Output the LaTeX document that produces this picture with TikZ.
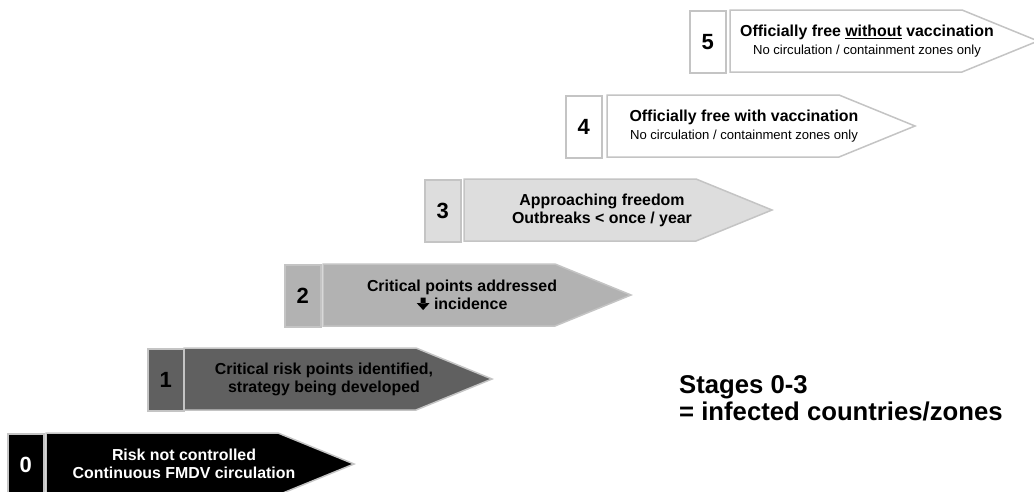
\documentclass[tikz,border=0pt]{standalone}
\usepackage{fontspec}
\setmainfont{Liberation Sans}
\definecolor{bordc}{HTML}{C4C4C4}
\definecolor{f0}{HTML}{000000}
\definecolor{f1}{HTML}{606060}
\definecolor{f2}{HTML}{B2B2B2}
\definecolor{f3}{HTML}{DDDDDD}
\definecolor{f4}{HTML}{FFFFFF}
\newcommand{\stg}[6]{% name, numleft, bodyleft, top, fill, number
  \node[numbox, fill=#5, anchor=north west] (#1n) at (#2,#4) {#6};
  \draw[bord, fill=#5] (#3,#4) -- ++(232,0) -- ++(76,31) -- ++(-76,31) -- ++(-232,0) -- cycle;
}
\newcommand{\dnarrow}{\tikz[x=1pt,y=1pt,baseline=0pt]\fill (-2.6,6) -- (2.6,6) -- (2.6,12) -- (-2.6,12) -- cycle (-6.5,6.5) -- (6.5,6.5) -- (0,-0.5) -- cycle;}
\tikzset{
  numbox/.style={draw=bordc, line width=1.5pt, minimum width=36pt, minimum height=62pt, inner sep=0pt,
    font=\fontsize{22}{24}\selectfont\bfseries},
  bord/.style={draw=bordc, line width=1.5pt},
  txt/.style={align=center, inner sep=0pt, font=\fontsize{15.9}{18}\selectfont\bfseries}
}
\begin{document}
\begin{tikzpicture}[x=1pt,y=-1pt]
\useasboundingbox (0,0) rectangle (1034,491);
\fill[white] (0,0) rectangle (1034,491);
\stg{s0}{7}{46}{433}{f0}{\textcolor{white}{0}}
\stg{s1}{147}{184}{348}{f1}{1}
\stg{s2}{284}{323}{264}{f2}{2}
\stg{s3}{424}{464}{179}{f3}{3}
\stg{s4}{565}{607}{95}{f4}{4}
\stg{s5}{689}{730}{10}{f4}{5}
\node[txt, text=white] (t0) at (184,464) {Risk not controlled\\Continuous FMDV circulation};
\node[txt] (t1) at (324,379) {Critical risk points identified,\\strategy being developed};
\node[txt] (t2) at (462,295) {Critical points addressed\\\dnarrow\ incidence};
\node[txt] (t3) at (602,210) {Approaching freedom\\Outbreaks < once / year};
\node[txt] (t4) at (744,126) {Officially free with vaccination\\{\fontsize{13.1}{18}\selectfont\mdseries No circulation / containment zones only}};
\node[txt] (t5) at (867,41) {Officially free \underline{without} vaccination\\{\fontsize{13.1}{18}\selectfont\mdseries No circulation / containment zones only}};
\node[anchor=north west, align=left, inner sep=0pt, font=\fontsize{25.7}{27}\selectfont\bfseries] (note) at (679,375) {Stages 0-3\\= infected countries/zones};
\end{tikzpicture}
\end{document}
